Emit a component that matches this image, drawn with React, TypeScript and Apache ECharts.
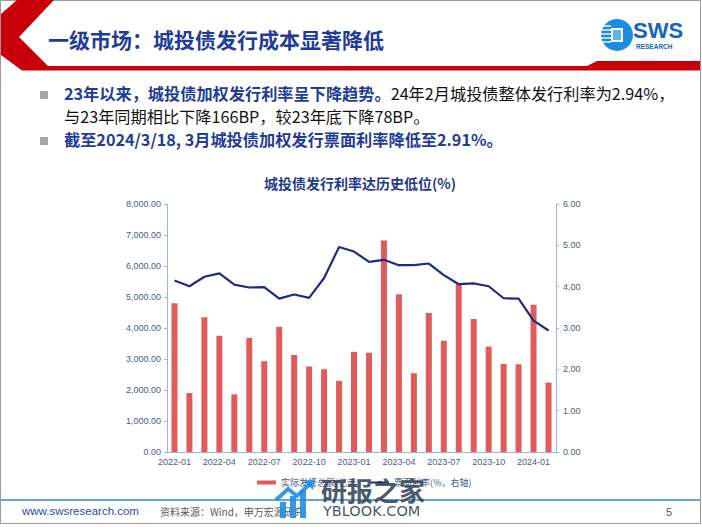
import React, { useEffect, useRef } from "react";
import * as echarts from "echarts";

const categories = [
  "2022-01", "2022-02", "2022-03", "2022-04", "2022-05", "2022-06",
  "2022-07", "2022-08", "2022-09", "2022-10", "2022-11", "2022-12",
  "2023-01", "2023-02", "2023-03", "2023-04", "2023-05", "2023-06",
  "2023-07", "2023-08", "2023-09", "2023-10", "2023-11", "2023-12",
  "2024-01", "2024-02",
];
const issuance = [
  4800, 1900, 4350, 3750, 1860, 3680, 2930, 4040, 3130, 2760, 2670, 2295,
  3230, 3200, 6820, 5090, 2540, 4480, 3590, 5440, 4290, 3400, 2840, 2830,
  4750, 2240,
];
const rate = [
  4.15, 4.01, 4.24, 4.32, 4.05, 3.98, 3.99, 3.71, 3.81, 3.73, 4.21, 4.96,
  4.85, 4.6, 4.65, 4.52, 4.52, 4.56, 4.28, 4.06, 4.08, 4.01, 3.72, 3.71,
  3.18, 2.94,
];
const seriesNames = ["实际发行总额(亿元)", "票面利率(%，右轴)"];
const slideTitle = "一级市场：城投债发行成本显著降低";
const chartTitle = "城投债发行利率达历史低位(%)";

const CJK = '"Noto Sans CJK SC", "Noto Sans", sans-serif';
const SANS = '"Liberation Sans", Arial, "Noto Sans CJK SC", sans-serif';
const BLUE = "#1F3C99";
const LABEL = "#4A5B8C";
const AXIS = "#9DB4DE";

export default function App() {
  const ref = useRef<HTMLDivElement>(null);
  useEffect(() => {
    if (!ref.current) return;
    const chart = echarts.init(ref.current, undefined, { renderer: "svg" });
    const graphic: any[] = [
      // slide frame
      { type: "rect", z: 1, shape: { x: 0.5, y: 0.5, width: 700, height: 523 }, style: { fill: "none", stroke: "#9a9a9a", lineWidth: 1 } },
      // red header chevron & bar
      {
        type: "polygon", z: 2,
        shape: { points: [[17, 0], [54, 0], [19, 37], [48, 66], [587, 66], [597, 61], [700, 61], [700, 70.5], [22, 70.5], [1, 55], [1, 14]] },
        style: { fill: "#C8000A" },
      },
      { type: "text", z: 3, left: 48, top: 28, style: { text: slideTitle, fontFamily: CJK, fontSize: 21, fontWeight: "bold", fill: BLUE } },
      // SWS logo
      { type: "circle", z: 3, shape: { cx: 617, cy: 35, r: 16 }, style: { fill: "#1B8BE0" } },
      ...[26, 30, 34, 38, 42].map((y) => ({ type: "line", z: 4, shape: { x1: 601, y1: y, x2: 611, y2: y }, style: { stroke: "#ffffff", lineWidth: 1.4 } })),
      { type: "rect", z: 4, shape: { x: 611, y: 28, width: 12, height: 14 }, style: { fill: "#ffffff" } },
      { type: "rect", z: 5, shape: { x: 613, y: 30, width: 8, height: 10 }, style: { fill: "#5FB4F0" } },
      { type: "text", z: 3, left: 633, top: 19, style: { text: "SWS", fontFamily: SANS, fontSize: 22, fontWeight: "bold", fill: "#1565C0" } },
      { type: "text", z: 3, left: 636, top: 43, style: { text: "RESEARCH", fontFamily: SANS, fontSize: 6.5, fontWeight: "bold", fill: "#1565C0" } },
      // bullets
      { type: "rect", z: 3, shape: { x: 40, y: 91, width: 8, height: 8 }, style: { fill: "#A6A6A6" } },
      { type: "rect", z: 3, shape: { x: 40, y: 137, width: 8, height: 8 }, style: { fill: "#A6A6A6" } },
      {
        type: "text", z: 3, left: 64, top: 85,
        style: {
          text: "{b|23年以来，城投债加权发行利率呈下降趋势。}{n|24年2月城投债整体发行利率为2.94%，}",
          rich: {
            b: { fontFamily: CJK, fontSize: 16.2, fontWeight: "bold", fill: BLUE },
            n: { fontFamily: CJK, fontSize: 16.2, fill: "#111111" },
          },
        },
      },
      { type: "text", z: 3, left: 64, top: 108, style: { text: "与23年同期相比下降166BP，较23年底下降78BP。", fontFamily: CJK, fontSize: 16.2, fill: "#111111" } },
      { type: "text", z: 3, left: 64, top: 131, style: { text: "截至2024/3/18, 3月城投债加权发行票面利率降低至2.91%。", fontFamily: CJK, fontSize: 16.2, fontWeight: "bold", fill: BLUE } },
      // chart title
      { type: "text", z: 3, x: 360, y: 176, style: { text: chartTitle, fontFamily: CJK, fontSize: 14, fontWeight: "bold", fill: "#1F3A8A", align: "center" } },
      // footer
      { type: "line", z: 3, shape: { x1: 1, y1: 500, x2: 700, y2: 500 }, style: { stroke: "#2A8AD6", lineWidth: 1.5 } },
      { type: "text", z: 3, left: 22, top: 505, style: { text: "www.swsresearch.com", fontFamily: SANS, fontSize: 11.5, fill: "#1F4EA0" } },
      { type: "text", z: 3, left: 160, top: 506, style: { text: "资料来源：Wind，申万宏源研究", fontFamily: CJK, fontSize: 10, fill: "#595959" } },
      { type: "text", z: 3, left: 666, top: 506, style: { text: "5", fontFamily: SANS, fontSize: 11, fill: "#595959" } },
      // watermark
      { type: "rect", z: 20, shape: { x: 280, y: 502, width: 6, height: 16 }, style: { fill: "#1E8FE0", opacity: 0.9 } },
      { type: "rect", z: 20, shape: { x: 290, y: 496, width: 6, height: 22 }, style: { fill: "#1E8FE0", opacity: 0.9 } },
      { type: "rect", z: 20, shape: { x: 300, y: 490, width: 6, height: 28 }, style: { fill: "#1E8FE0", opacity: 0.9 } },
      { type: "polyline", z: 20, shape: { points: [[276, 500], [288, 489], [297, 496], [311, 483]] }, style: { stroke: "#1E8FE0", lineWidth: 4, fill: "none", opacity: 0.9 } },
      { type: "polygon", z: 20, shape: { points: [[315, 479], [304, 481], [313, 490]] }, style: { fill: "#1E8FE0", opacity: 0.9 } },
      { type: "text", z: 20, left: 321, top: 476, style: { text: "研报之家", fontFamily: CJK, fontSize: 26, fontWeight: "bold", fill: "#3A4A5E", opacity: 0.92 } },
      { type: "text", z: 20, left: 323, top: 503, style: { text: "YBLOOK.COM", fontFamily: '"DejaVu Sans", sans-serif', fontSize: 14.5, fill: "#34465A", opacity: 0.92 } },
    ];
    chart.setOption({
      animation: false,
      backgroundColor: "#ffffff",
      grid: { left: 167, right: 146, top: 204, bottom: 75, containLabel: false },
      legend: {
        left: 252, top: 473, itemWidth: 19, itemHeight: 4, itemGap: 10,
        textStyle: { fontFamily: CJK, fontSize: 9, color: LABEL },
        data: [{ name: seriesNames[0], icon: "rect" }, { name: seriesNames[1] }],
      },
      xAxis: {
        type: "category",
        data: categories,
        axisLine: { lineStyle: { color: AXIS, width: 1 } },
        axisTick: { interval: 2, length: 4, lineStyle: { color: AXIS } },
        axisLabel: { interval: 2, margin: 5, fontFamily: SANS, fontSize: 9, color: LABEL },
      },
      yAxis: [
        {
          type: "value", min: 0, max: 8000, interval: 1000,
          axisLine: { show: true, lineStyle: { color: AXIS } },
          axisTick: { show: true, length: 3, lineStyle: { color: AXIS } },
          splitLine: { show: false },
          axisLabel: {
            margin: 6, fontFamily: SANS, fontSize: 9, color: LABEL,
            formatter: (v: number) => v.toLocaleString("en-US", { minimumFractionDigits: 2, maximumFractionDigits: 2 }),
          },
        },
        {
          type: "value", min: 0, max: 6, interval: 1, position: "right",
          axisLine: { show: true, lineStyle: { color: AXIS } },
          axisTick: { show: true, length: 3, lineStyle: { color: AXIS } },
          splitLine: { show: false },
          axisLabel: { margin: 7, fontFamily: SANS, fontSize: 9, color: LABEL, formatter: (v: number) => v.toFixed(2) },
        },
      ],
      series: [
        { name: seriesNames[0], type: "bar", data: issuance, barWidth: 6, itemStyle: { color: "#E05B5B" } },
        {
          name: seriesNames[1], type: "line", yAxisIndex: 1, data: rate, symbol: "none", smooth: false,
          lineStyle: { color: "#1B2C85", width: 2.2 }, itemStyle: { color: "#1B2C85" },
        },
      ],
      graphic,
    });
    return () => chart.dispose();
  }, []);
  return <div ref={ref} style={{ position: "absolute", left: 0, top: 0, width: 702, height: 527, background: "#fff" }} />;
}
